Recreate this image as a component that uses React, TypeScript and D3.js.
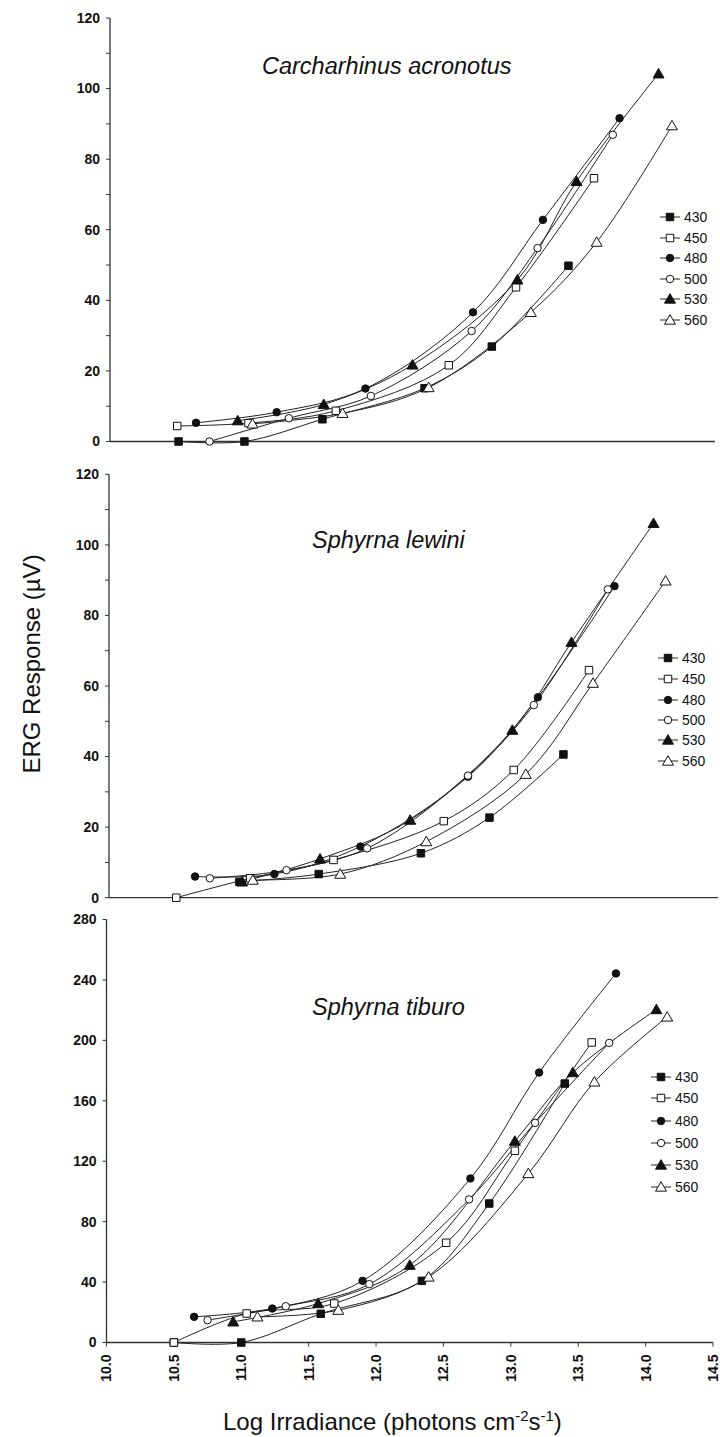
import React from "react";
import * as d3 from "d3";

// ---- data: [log irradiance, ERG response µV] ----
const wavelengths = ["430", "450", "480", "500", "530", "560"];

const acronotus430 = [[10.51, 0], [11.0, 0], [11.58, 6.3], [12.34, 15.1], [12.84, 26.9], [13.41, 49.8]];
const acronotus450 = [[10.5, 4.4], [11.03, 5.2], [11.68, 8.7], [12.52, 21.6], [13.02, 43.7], [13.6, 74.6]];
const acronotus480 = [[10.64, 5.3], [11.24, 8.3], [11.9, 15.0], [12.7, 36.6], [13.22, 62.8], [13.79, 91.6]];
const acronotus500 = [[10.74, 0], [11.33, 6.6], [11.94, 12.9], [12.69, 31.3], [13.18, 54.8], [13.74, 86.9]];
const acronotus530 = [[10.95, 5.9], [11.59, 10.5], [12.25, 21.7], [13.03, 45.8], [13.47, 73.7], [14.08, 104.2]];
const acronotus560 = [[11.06, 5.0], [11.73, 8.0], [12.37, 15.3], [13.13, 36.6], [13.62, 56.5], [14.18, 89.5]];

const lewini430 = [[10.97, 4.5], [11.56, 6.7], [12.32, 12.6], [12.83, 22.7], [13.38, 40.6]];
const lewini450 = [[10.5, 0], [11.05, 5.5], [11.67, 10.7], [12.49, 21.7], [13.01, 36.2], [13.57, 64.5]];
const lewini480 = [[10.64, 6.0], [11.23, 6.7], [11.87, 14.5], [12.67, 34.3], [13.19, 56.8], [13.76, 88.3]];
const lewini500 = [[10.75, 5.5], [11.32, 7.8], [11.92, 14.0], [12.67, 34.6], [13.16, 54.6], [13.71, 87.4]];
const lewini530 = [[10.99, 4.5], [11.57, 11.0], [12.24, 22.0], [13.0, 47.5], [13.44, 72.4], [14.05, 106.1]];
const lewini560 = [[11.07, 5.0], [11.72, 6.7], [12.36, 15.9], [13.1, 35.0], [13.6, 60.8], [14.14, 89.8]];

const tiburo430 = [[10.5, 0], [11.0, 0], [11.59, 19], [12.34, 40.8], [12.84, 92], [13.4, 171.4]];
const tiburo450 = [[10.5, 0], [11.04, 19.2], [11.69, 25.8], [12.52, 66], [13.03, 126.9], [13.6, 198.6]];
const tiburo480 = [[10.65, 17], [11.23, 22.5], [11.9, 40.8], [12.7, 108.6], [13.21, 178.7], [13.78, 244.3]];
const tiburo500 = [[10.75, 14.8], [11.33, 24], [11.95, 38.6], [12.69, 94.7], [13.18, 145.4], [13.73, 198.3]];
const tiburo530 = [[10.94, 13.7], [11.57, 25.8], [12.25, 51.2], [13.03, 133.3], [13.46, 178.7], [14.08, 220.4]];
const tiburo560 = [[11.12, 17], [11.72, 21.4], [12.39, 43.4], [13.13, 111.9], [13.62, 172.5], [14.16, 215.5]];

const xTicks = [10.0, 10.5, 11.0, 11.5, 12.0, 12.5, 13.0, 13.5, 14.0, 14.5];
const yTicksSmall = [0, 20, 40, 60, 80, 100, 120];
const yMinorSmall = [10, 30, 50, 70, 90, 110];
const yTicksLarge = [0, 40, 80, 120, 160, 200, 240, 280];

const FONT = "'Liberation Sans', Arial, Helvetica, sans-serif";
const INK = "#111";

type Pt = number[];
type Panel = {
  title: string;
  series: Pt[][];
  xRange: [number, number];
  xLineEnd: number;
  yDomain: [number, number];
  yRange: [number, number];
  yTicks: number[];
  yMinor: number[];
  showXLabels: boolean;
  titleX: number;
  titleY: number;
  legendX: number;
  legendY: number[];
};

const panels: Panel[] = [
  {
    title: "Carcharhinus acronotus",
    series: [acronotus430, acronotus450, acronotus480, acronotus500, acronotus530, acronotus560],
    xRange: [110, 715],
    xLineEnd: 715,
    yDomain: [0, 120],
    yRange: [441.5, 18],
    yTicks: yTicksSmall,
    yMinor: yMinorSmall,
    showXLabels: false,
    titleX: 262,
    titleY: 74,
    legendX: 670,
    legendY: [217, 238, 258, 279, 299, 320],
  },
  {
    title: "Sphyrna lewini",
    series: [lewini430, lewini450, lewini480, lewini500, lewini530, lewini560],
    xRange: [109, 714],
    xLineEnd: 718,
    yDomain: [0, 120],
    yRange: [897.7, 474.3],
    yTicks: yTicksSmall,
    yMinor: yMinorSmall,
    showXLabels: false,
    titleX: 312,
    titleY: 548,
    legendX: 668,
    legendY: [658, 679, 700, 720, 740, 761],
  },
  {
    title: "Sphyrna tiburo",
    series: [tiburo430, tiburo450, tiburo480, tiburo500, tiburo530, tiburo560],
    xRange: [106.5, 713],
    xLineEnd: 713,
    yDomain: [0, 280],
    yRange: [1342.5, 919.5],
    yTicks: yTicksLarge,
    yMinor: [],
    showXLabels: true,
    titleX: 312,
    titleY: 1015,
    legendX: 661,
    legendY: [1077, 1098, 1121, 1143, 1165, 1187],
  },
];

const symbolTypes = [d3.symbolSquare, d3.symbolSquare, d3.symbolCircle, d3.symbolCircle, d3.symbolTriangle, d3.symbolTriangle];
const symbolSizes = [56, 56, 44, 44, 52, 52];
const filled = [true, false, true, false, true, false];

function Marker({ i, x, y }: { i: number; x: number; y: number }) {
  const path = d3.symbol().type(symbolTypes[i]).size(symbolSizes[i])() || "";
  const dy = symbolTypes[i] === d3.symbolTriangle ? 1 : 0;
  return (
    <path
      d={path}
      transform={`translate(${x},${y + dy})`}
      fill={filled[i] ? INK : "#fff"}
      stroke={INK}
      strokeWidth={1}
    />
  );
}

function PanelView({ p }: { p: Panel }) {
  const x = d3.scaleLinear().domain([10, 14.5]).range(p.xRange);
  const y = d3.scaleLinear().domain(p.yDomain).range(p.yRange);
  const line = d3
    .line<Pt>()
    .x((d) => x(d[0]))
    .y((d) => y(d[1]))
    .curve(d3.curveCatmullRom.alpha(0.5));
  const x0 = p.xRange[0];
  const y0 = p.yRange[0];
  return (
    <g>
      {/* axes */}
      <line x1={x0} x2={x0} y1={p.yRange[1]} y2={y0} stroke="#333" strokeWidth={1.3} />
      <line x1={x0} x2={p.xLineEnd} y1={y0} y2={y0} stroke="#333" strokeWidth={1.3} />
      {p.yTicks.map((t) => (
        <g key={"yt" + t}>
          <line x1={x0 - 4} x2={x0} y1={y(t)} y2={y(t)} stroke="#333" strokeWidth={1} />
          <text
            x={x0 - 10}
            y={y(t)}
            dy="0.35em"
            textAnchor="end"
            fontFamily={FONT}
            fontWeight="bold"
            fontSize={14}
            fill={INK}
          >
            {t}
          </text>
        </g>
      ))}
      {p.yMinor.map((t) => (
        <line key={"ym" + t} x1={x0 - 4} x2={x0} y1={y(t)} y2={y(t)} stroke="#333" strokeWidth={1} />
      ))}
      {p.showXLabels &&
        xTicks.map((t) => (
          <g key={"xt" + t}>
            <line x1={x(t)} x2={x(t)} y1={y0} y2={y0 + 4} stroke="#333" strokeWidth={1} />
            <text
              transform={`translate(${x(t)},${y0 + 12}) rotate(-90)`}
              dy="0.35em"
              textAnchor="end"
              fontFamily={FONT}
              fontWeight="bold"
              fontSize={14}
              fill={INK}
            >
              {t.toFixed(1)}
            </text>
          </g>
        ))}
      {/* title */}
      <text x={p.titleX} y={p.titleY} fontFamily={FONT} fontStyle="italic" fontSize={23.5} fill={INK}>
        {p.title}
      </text>
      {/* lines */}
      {p.series.map((s, i) => (
        <path key={"l" + i} d={line(s) || ""} fill="none" stroke="#222" strokeWidth={1} />
      ))}
      {/* markers */}
      {p.series.map((s, i) =>
        s.map((d, j) => <Marker key={`m${i}-${j}`} i={i} x={x(d[0])} y={y(d[1])} />)
      )}
      {/* legend */}
      {wavelengths.map((w, i) => (
        <g key={"lg" + w}>
          <line
            x1={p.legendX - 10}
            x2={p.legendX + 10}
            y1={p.legendY[i]}
            y2={p.legendY[i]}
            stroke="#222"
            strokeWidth={1}
          />
          <Marker i={i} x={p.legendX} y={p.legendY[i]} />
          <text
            x={p.legendX + 14}
            y={p.legendY[i]}
            dy="0.35em"
            fontFamily={FONT}
            fontSize={14}
            fill={INK}
          >
            {w}
          </text>
        </g>
      ))}
    </g>
  );
}

export default function App() {
  return (
    <svg
      width={720}
      height={1437}
      viewBox="0 0 720 1437"
      style={{ position: "absolute", left: 0, top: 0, background: "#fff" }}
    >
      <rect x={0} y={0} width={720} height={1437} fill="#fff" />
      {panels.map((p, k) => (
        <PanelView key={k} p={p} />
      ))}
      <text
        transform="translate(32,664) rotate(-90)"
        textAnchor="middle"
        dy="0.35em"
        fontFamily={FONT}
        fontSize={24}
        fill={INK}
      >
        ERG Response (µV)
      </text>
      <text x={223} y={1430} fontFamily={FONT} fontSize={24} fill={INK}>
        Log Irradiance (photons cm
        <tspan dy={-9} fontSize={15}>-2</tspan>
        <tspan dy={9}>s</tspan>
        <tspan dy={-9} fontSize={15}>-1</tspan>
        <tspan dy={9}>)</tspan>
      </text>
    </svg>
  );
}
